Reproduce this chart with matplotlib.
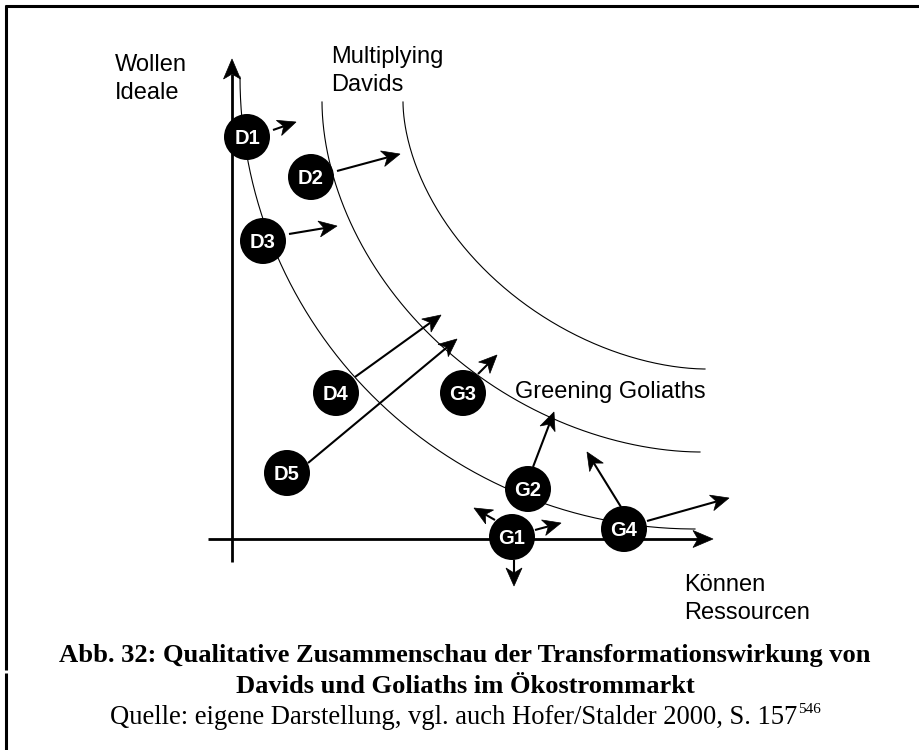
import numpy as np
import matplotlib
matplotlib.use("Agg")
import matplotlib.pyplot as plt
from matplotlib.patches import Circle, Polygon

# diagram laid out in the reference's pixel space (919 x 750, y grows down)
W, H = 919, 750

# iso-curves: quarter (super)ellipses from a top start point to a right end point
curve_x0 = [240, 322, 403]
curve_y0 = [77, 102, 102]
curve_x1 = [695, 700, 705]
curve_y1 = [529, 452, 369]
curve_p = [2.0, 1.87, 1.8]

# actors
node_names = ["D1", "D2", "D3", "D4", "D5", "G3", "G2", "G1", "G4"]
node_x = [247, 311, 263, 336, 287, 463, 528, 512, 624]
node_y = [137, 177, 241, 393, 473, 393, 489, 537, 529]

# movement arrows (start -> tip)
arrow_x0 = [273, 337, 289, 355, 308, 478, 533, 621, 647, 495, 535, 514]
arrow_y0 = [130, 171, 234, 377, 463, 374, 467, 507, 521, 520, 530, 560]
arrow_x1 = [296, 400, 337, 441, 457, 497, 554, 587, 729, 474, 561, 514]
arrow_y1 = [122, 154, 226, 315, 339, 355, 412, 452, 498, 508, 523, 586]

# axes
yaxis = (232, 562, 59)      # x, bottom, tip
xaxis = (539, 208, 713)     # y, left, tip

labels = ["Wollen", "Ideale", "Multiplying", "Davids", "Greening Goliaths",
          "Können", "Ressourcen"]
label_x = [115, 115, 331, 331, 515, 684, 684]
label_y = [71, 99, 63, 91, 398, 591, 619]

caption = ["Abb. 32: Qualitative Zusammenschau der Transformationswirkung von",
           "Davids und Goliaths im Ökostrommarkt"]
source = "Quelle: eigene Darstellung, vgl. auch Hofer/Stalder 2000, S. 157"
footnote = "546"


def arrow(ax, x0, y0, x1, y1, lw=1.5, L=18.0, hw=8.0, notch=5.0):
    """Line with a notched (stealth) arrowhead at (x1, y1)."""
    u = np.array([x1 - x0, y1 - y0], float)
    u /= np.hypot(*u)
    n = np.array([-u[1], u[0]])
    tip = np.array([x1, y1], float)
    back = tip - (L - notch) * u
    ax.plot([x0, back[0]], [y0, back[1]], color="black", lw=lw,
            solid_capstyle="butt", zorder=3)
    head = [tip, tip - L * u + hw * n, back, tip - L * u - hw * n]
    ax.add_patch(Polygon(head, closed=True, fc="black", ec="black", lw=0.5,
                         zorder=3))


def fit_width(fig, txt, target):
    """Scale a text's font size so it spans `target` pixels."""
    fig.canvas.draw()
    w = txt.get_window_extent().width
    txt.set_fontsize(txt.get_fontsize() * target / w)
    return txt.get_fontsize()


fig = plt.figure(figsize=(W / 100, H / 100), dpi=100)
ax = fig.add_axes([0, 0, 1, 1])
ax.set_xlim(0, W)
ax.set_ylim(H, 0)
ax.axis("off")

# frame (top and left edges only, left edge has a tiny seam)
ax.plot([5, W], [6, 6], color="black", lw=2.2, solid_capstyle="butt")
ax.plot([6, 6], [5, 670], color="black", lw=2.2, solid_capstyle="butt")
ax.plot([6, 6], [673, H], color="black", lw=2.2, solid_capstyle="butt")

t = np.linspace(0, np.pi / 2, 200)
for x0, y0, x1, y1, p in zip(curve_x0, curve_y0, curve_x1, curve_y1, curve_p):
    cx = x1 - (x1 - x0) * np.cos(t) ** (2 / p)
    cy = y0 + (y1 - y0) * np.sin(t) ** (2 / p)
    ax.plot(cx, cy, color="black", lw=0.8, zorder=1)

# axes with arrowheads
arrow(ax, yaxis[0], yaxis[1], yaxis[0], yaxis[2], lw=2.0, L=20, hw=8.5)
arrow(ax, xaxis[1], xaxis[0], xaxis[2], xaxis[0], lw=2.0, L=20, hw=8.5)

for x0, y0, x1, y1 in zip(arrow_x0, arrow_y0, arrow_x1, arrow_y1):
    arrow(ax, x0, y0, x1, y1)

for name, x, y in zip(node_names, node_x, node_y):
    ax.add_patch(Circle((x, y), 23, fc="black", ec="none", zorder=4))
    ax.text(x, y + 1, name, color="white", fontsize=14.5, fontweight="bold",
            family="Liberation Sans", ha="center", va="center", zorder=5)

for s, x, y in zip(labels, label_x, label_y):
    ax.text(x, y, s, fontsize=17, family="Liberation Sans", ha="left",
            va="baseline")

cap1 = ax.text(465, 662, caption[0], fontsize=16, fontweight="bold",
               family="Liberation Serif", ha="center", va="baseline")
size = fit_width(fig, cap1, 814)
ax.text(465, 693, caption[1], fontsize=size, fontweight="bold",
        family="Liberation Serif", ha="center", va="baseline")
src = ax.text(110, 724, source, fontsize=16, family="Liberation Serif",
              ha="left", va="baseline")
fit_width(fig, src, 690)
fig.canvas.draw()
bb = src.get_window_extent().transformed(ax.transData.inverted())
ax.text(bb.x1 + 1, 713, footnote, fontsize=11, family="Liberation Serif",
        ha="left", va="baseline")

fig.savefig("out.png", dpi=100)
